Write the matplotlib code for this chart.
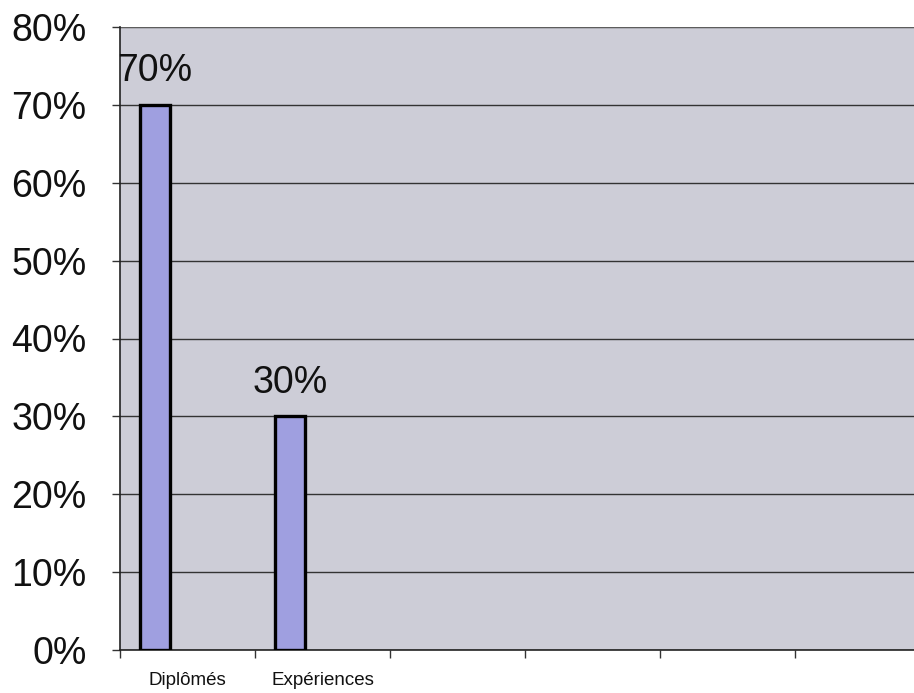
import matplotlib
matplotlib.use("Agg")
import matplotlib.pyplot as plt
import numpy as np

categories = ["Diplômés", "Expériences", "", "", "", ""]
values = [70, 30, 0, 0, 0, 0]
bar_labels = ["70%", "30%"]
yticks = [0, 10, 20, 30, 40, 50, 60, 70, 80]

W, H = 914, 693
fig = plt.figure(figsize=(W / 100, H / 100), dpi=100)
fig.patch.set_facecolor("white")
left, right, top, bottom = 120, 930, 27, 650
ax = fig.add_axes([left / W, 1 - bottom / H, (right - left) / W, (bottom - top) / H])
ax.set_facecolor("#cdcdd7")

n = len(categories)
x = np.arange(n)
offset = -0.24
bw = 0.222
ax.bar(x[:2] + offset, values[:2], width=bw, color="#9f9fe0", edgecolor="black", linewidth=2.4, zorder=3)

for i, lab in enumerate(bar_labels):
    ax.text(x[i] + offset, values[i] + 2.0, lab, ha="center", va="bottom",
            fontsize=27, family="Liberation Sans", color="#111111")

ax.set_xlim(-0.5, n - 0.5)
ax.set_ylim(0, 80)
ax.set_yticks(yticks)
ax.set_yticklabels([f"{v}%" for v in yticks], fontsize=27, family="Liberation Sans", color="#111111")
ax.set_xticks(np.arange(n + 1) - 0.5, minor=False)
ax.set_xticklabels([])
ax.set_xticks(x, minor=True)
ax.set_xticklabels(categories, minor=True, fontsize=13.5, family="Liberation Sans", color="#111111")
ax.tick_params(axis="x", which="minor", length=0, pad=16)
ax.tick_params(axis="x", which="major", length=6, width=1, color="#333333", direction="out")
ax.tick_params(axis="y", length=6, width=1, pad=18, color="#333333")
ax.yaxis.grid(True, color="#333333", linewidth=1.0, zorder=1)
ax.set_axisbelow(True)
for s in ["top", "right"]:
    ax.spines[s].set_visible(False)
ax.spines["left"].set_color("#222222")
ax.spines["left"].set_linewidth(1.2)
ax.spines["bottom"].set_color("#222222")
ax.spines["bottom"].set_linewidth(1.2)
ax.axhline(80, color="#666666", linewidth=1.2, zorder=2)

fig.savefig("out.png", dpi=100)
